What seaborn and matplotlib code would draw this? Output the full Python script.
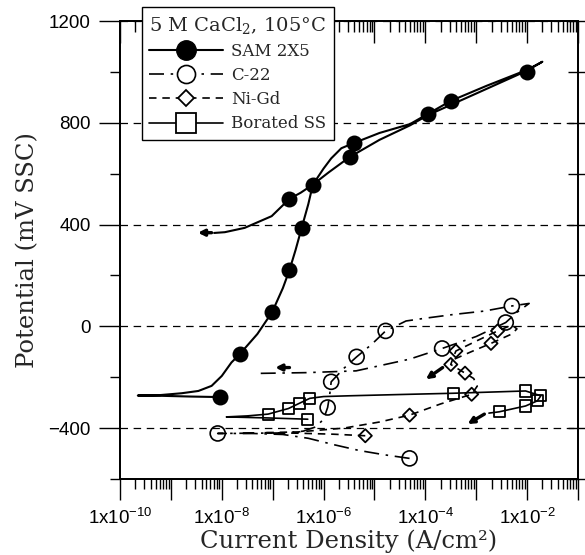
import numpy as np
import seaborn as sns
import matplotlib.pyplot as plt
from matplotlib.lines import Line2D
from matplotlib.ticker import LogLocator, FuncFormatter, NullFormatter, MultipleLocator

# values: log10(current density) and potential in mV SSC
# SAM 2X5 - polarization curve and marker points
sam_line_logi = [-8.04, -8.6, -9.2, -9.65, -9.2, -8.79, -8.46, -8.2, -8.0, -7.81, -7.65, -7.3, -7.01, -6.8,
                 -6.67, -6.55, -6.43, -6.3, -6.21, -6.0, -5.85, -5.65, -5.41, -4.9, -4.3, -3.95, -3.5, -2.8,
                 -2.0, -1.7, -2.0, -3.0, -3.95, -4.3, -4.9, -5.49, -5.9, -6.21, -6.45, -6.67, -7.02, -7.55,
                 -7.94, -8.15]
sam_line_e = [-278, -276, -273, -272, -270, -263, -254, -234, -195, -142, -110, -30, 56, 150,
              221, 300, 387, 480, 557, 620, 660, 700, 720, 760, 795, 835, 886, 945,
              1008, 1040, 1005, 915, 830, 790, 733, 665, 605, 557, 525, 501, 433, 387,
              370, 367]
sam_mk_logi = [-8.04, -7.65, -7.01, -6.67, -6.43, -6.67, -6.21, -5.49, -5.41, -3.95, -3.50, -2.0]
sam_mk_e = [-278, -110, 56, 221, 387, 501, 557, 665, 720, 835, 886, 1000]

# C-22
c22_line_logi = [-4.31, -4.8, -5.3, -5.8, -6.3, -6.8, -7.4, -8.08, -7.4, -6.8, -6.4, -6.15, -6.0, -5.92,
                 -5.88, -5.85, -5.6, -5.35, -5.05, -4.78, -4.38, -4.0, -3.43, -2.84, -2.30, -1.96, -2.2,
                 -2.42, -3.0, -3.67, -4.31, -5.36, -6.34, -7.29]
c22_line_e = [-519, -505, -488, -465, -440, -425, -421, -421, -420, -419, -412, -395, -365, -319,
              -270, -218, -165, -120, -70, -18, 21, 32, 47, 60, 80, 90, 55,
              15, -40, -87, -129, -175, -182, -185]
c22_mk_logi = [-8.08, -5.92, -5.85, -5.35, -4.78, -2.30, -2.42, -3.67, -4.31]
c22_mk_e = [-421, -319, -218, -120, -18, 80, 15, -87, -519]

# Ni-Gd
nigd_line_logi = [-5.18, -5.8, -6.5, -7.2, -6.5, -5.6, -4.9, -4.31, -3.7, -3.09, -2.98, -3.05, -3.22,
                  -3.50, -3.45, -3.40, -3.0, -2.58, -2.3, -2.2, -2.3, -2.71, -3.1, -3.5]
nigd_line_e = [-430, -424, -420, -418, -415, -400, -376, -349, -305, -267, -235, -205, -184,
               -150, -122, -97, -58, -18, 5, -10, -30, -67, -100, -135]
nigd_mk_logi = [-5.18, -4.31, -3.09, -3.22, -3.50, -3.40, -2.71, -2.58]
nigd_mk_e = [-430, -349, -267, -184, -150, -97, -67, -18]

# Borated SS
bss_line_logi = [-6.31, -7.1, -7.91, -7.5, -7.09, -6.69, -6.47, -6.27, -6.0, -5.5, -4.5, -3.45, -2.5,
                 -2.03, -1.73, -1.80, -2.03, -2.55, -2.75]
bss_line_e = [-365, -360, -356, -352, -345, -323, -302, -283, -276, -273, -268, -263, -257,
              -254, -273, -293, -313, -336, -341]
bss_mk_logi = [-7.09, -6.69, -6.47, -6.27, -6.31, -3.45, -2.03, -1.73, -1.80, -2.03, -2.55]
bss_mk_e = [-345, -323, -302, -283, -365, -263, -254, -273, -293, -313, -336]

# scan direction arrows: (tail logi, tail E, head logi, head E)
arrows = [(-8.20, 368, -8.47, 368),
          (-6.67, -162, -6.95, -162),
          (-3.66, -162, -3.99, -208),
          (-2.84, -345, -3.17, -384)]

labels = ["SAM 2X5", "C-22", "Ni-Gd", "Borated SS"]
title = "5 M CaCl$_2$, 105°C"

sns.set_theme(style="ticks")
plt.rcParams['font.family'] = ['Liberation Sans', 'DejaVu Sans']
plt.rcParams['mathtext.default'] = 'regular'
plt.rcParams['axes.edgecolor'] = 'black'
plt.rcParams['xtick.color'] = 'black'
plt.rcParams['ytick.color'] = 'black'

fig = plt.figure(figsize=(5.85, 5.55), dpi=100)
ax = fig.add_axes([120 / 585, 76 / 555, 458 / 585, 458 / 555])

c22_ls = (0, (9, 4, 1.5, 4))
nigd_ls = (0, (4.5, 3.5))

def curve(logi, e, **kw):
    sns.lineplot(x=10 ** np.array(logi), y=e, sort=False, estimator=None,
                 color='black', ax=ax, **kw)

curve(sam_line_logi, sam_line_e, lw=1.5)
curve(c22_line_logi, c22_line_e, lw=1.2, linestyle=c22_ls)
curve(nigd_line_logi, nigd_line_e, lw=1.2, linestyle=nigd_ls)
curve(bss_line_logi, bss_line_e, lw=1.2)

sns.scatterplot(x=10 ** np.array(sam_mk_logi), y=sam_mk_e, marker='o', s=132,
                color='black', edgecolor='black', linewidth=0, ax=ax, zorder=4)
sns.scatterplot(x=10 ** np.array(c22_mk_logi), y=c22_mk_e, marker='o', s=117,
                facecolor='none', edgecolor='black', linewidth=1.2, ax=ax, zorder=4)
sns.scatterplot(x=10 ** np.array(nigd_mk_logi), y=nigd_mk_e, marker='D', s=45,
                facecolor='none', edgecolor='black', linewidth=1.3, ax=ax, zorder=4)
sns.scatterplot(x=10 ** np.array(bss_mk_logi), y=bss_mk_e, marker='s', s=64,
                facecolor='none', edgecolor='black', linewidth=1.3, ax=ax, zorder=4)

for x0, y0, x1, y1 in arrows:
    ax.annotate('', xy=(10 ** x1, y1), xytext=(10 ** x0, y0),
                arrowprops=dict(arrowstyle='-|>', color='black', lw=2.4,
                                mutation_scale=9, shrinkA=0, shrinkB=0))

ax.set_xscale('log')
ax.set_xlim(1e-10, 1e-1)
ax.set_ylim(-600, 1200)

def fmt(v, pos):
    ex = int(round(np.log10(v)))
    return '1x10$^{%d}$' % ex if ex % 2 == 0 else ''

ax.xaxis.set_major_locator(LogLocator(base=10, numticks=20))
ax.xaxis.set_minor_locator(LogLocator(base=10, subs=np.arange(2, 10), numticks=20))
ax.xaxis.set_major_formatter(FuncFormatter(fmt))
ax.xaxis.set_minor_formatter(NullFormatter())
ax.yaxis.set_major_locator(MultipleLocator(400))
ax.yaxis.set_minor_locator(MultipleLocator(200))
ax.set_yticks([-400, 0, 400, 800, 1200])

ax.tick_params(which='major', direction='out', length=15, width=1, labelsize=13.5, pad=6,
               top=False, right=False)
ax.tick_params(which='minor', direction='out', length=7, width=1, top=False, right=False)
ax.yaxis.grid(True, which='major', color='black', lw=0.9, linestyle=(0, (6, 4.5)))
ax.xaxis.grid(False)
for s in ax.spines.values():
    s.set_linewidth(1.1)

# top and right ticks
ax_top = ax.twiny()
ax_top.set_xscale('log')
ax_top.set_xlim(ax.get_xlim())
ax_top.xaxis.set_major_locator(LogLocator(base=10, numticks=20))
ax_top.xaxis.set_minor_locator(LogLocator(base=10, subs=np.arange(2, 10), numticks=20))
ax_top.xaxis.set_minor_formatter(NullFormatter())
ax_top.tick_params(axis='x', which='major', direction='in', length=16, width=1, labeltop=False)
ax_top.tick_params(axis='x', which='minor', direction='in', length=8, width=1)

ax_r = ax.twinx()
ax_r.set_ylim(ax.get_ylim())
ax_r.yaxis.set_major_locator(MultipleLocator(400))
ax_r.yaxis.set_minor_locator(MultipleLocator(200))
ax_r.tick_params(axis='y', which='both', direction='inout', length=15, width=1, labelright=False)
for a in (ax_top, ax_r):
    a.grid(False)
    for s in a.spines.values():
        s.set_linewidth(1.1)

ax.set_zorder(3)
ax.patch.set_visible(False)

ax.set_xlabel("Current Density (A/cm²)", fontfamily='DejaVu Serif', fontsize=17.5, labelpad=1)
ax.set_ylabel("Potential (mV SSC)", fontfamily='DejaVu Serif', fontsize=17.5, labelpad=7)

handles = [
    Line2D([], [], color='black', lw=1.5, marker='o', markersize=14, markerfacecolor='black',
           markeredgecolor='black'),
    Line2D([], [], color='black', lw=1.2, linestyle=c22_ls, marker='o', markersize=13,
           markerfacecolor='white', markeredgecolor='black', markeredgewidth=1.2),
    Line2D([], [], color='black', lw=1.2, linestyle=nigd_ls, marker='D', markersize=8.6,
           markerfacecolor='white', markeredgecolor='black', markeredgewidth=1.3),
    Line2D([], [], color='black', lw=1.2, marker='s', markersize=14, markerfacecolor='white',
           markeredgecolor='black', markeredgewidth=1.3),
]
leg = ax.legend(handles, labels, title=title, loc='upper left', bbox_to_anchor=(0.048, 1.03),
                prop={'family': 'DejaVu Serif', 'size': 12},
                title_fontproperties={'family': 'DejaVu Serif', 'size': 14},
                frameon=True, fancybox=False, edgecolor='black', framealpha=1,
                handlelength=4.4, handletextpad=0.5, labelspacing=0.43, borderpad=0.45,
                borderaxespad=0, alignment='left')
leg.get_frame().set_linewidth(1)

fig.savefig('out.png', dpi=100, facecolor='white')
